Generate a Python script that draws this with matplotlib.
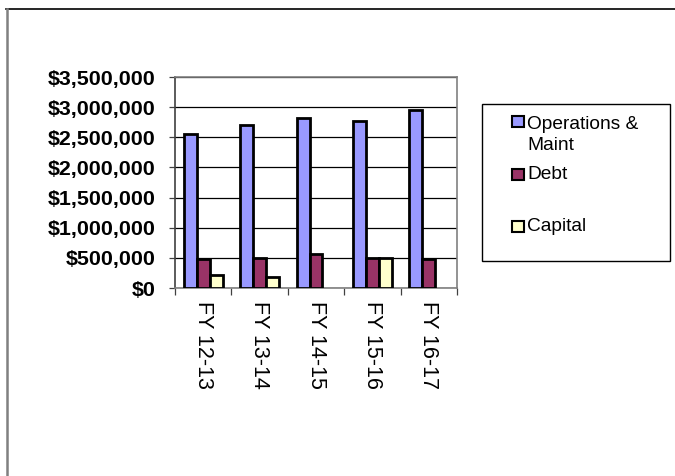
import matplotlib
matplotlib.use("Agg")
import matplotlib.pyplot as plt
from matplotlib.patches import Rectangle
from matplotlib.lines import Line2D
import numpy as np

categories = ["FY 12-13", "FY 13-14", "FY 14-15", "FY 15-16", "FY 16-17"]
series_names = ["Operations &\nMaint", "Debt", "Capital"]
operations = [2555000, 2705000, 2815000, 2765000, 2952000]
debt = [482000, 493000, 558000, 498000, 482000]
capital = [215000, 177000, 0, 493000, 0]
colors = ["#9999FF", "#993366", "#FFFFCC"]
yticks = [0, 500000, 1000000, 1500000, 2000000, 2500000, 3000000, 3500000]

plt.rcParams['font.family'] = ['Liberation Sans', 'DejaVu Sans']

W, H = 675, 476
fig = plt.figure(figsize=(W / 100, H / 100), dpi=100)
ax = fig.add_axes([175 / W, 1 - 288 / H, 282 / W, 211 / H])

# barres groupées (pas de contour pour les valeurs nulles)
x = np.arange(len(categories))
bw = 0.23
for i, vals in enumerate([operations, debt, capital]):
    edges = ["black" if v > 0 else "none" for v in vals]
    ax.bar(x + (i - 1) * bw, vals, bw, color=colors[i], edgecolor=edges,
           linewidth=2.0, zorder=3)

ax.set_xlim(-0.5, len(categories) - 0.5)
ax.set_ylim(0, 3500000)

# axe y
ax.set_yticks(yticks)
ax.set_yticklabels(["${:,.0f}".format(v) for v in yticks], fontsize=15.4,
                   fontweight="bold")
ax.yaxis.grid(True, color="black", linewidth=0.9, zorder=1)
ax.tick_params(axis="y", length=4, width=0.9, pad=10, color="#404040")

# axe x : ticks aux limites, étiquettes au centre
ax.set_xticks(np.arange(-0.5, len(categories)), labels=[])
ax.set_xticks(x, minor=True)
ax.set_xticklabels(categories, minor=True, rotation=-90, fontsize=15.5,
                   va="top", ha="center")
ax.tick_params(axis="x", which="major", length=5, width=0.9, color="#404040")
ax.tick_params(axis="x", which="minor", length=0, pad=9.5)

for side in ["top", "right", "bottom"]:
    ax.spines[side].set_color("#808080")
    ax.spines[side].set_linewidth(1.2)
ax.spines["left"].set_color("#404040")
ax.spines["left"].set_linewidth(1.2)
ax.spines["top"].set_zorder(4)

# légende
fig.add_artist(Rectangle((482 / W, 1 - 261 / H), 188 / W, 157 / H,
                         transform=fig.transFigure, fill=False,
                         edgecolor="black", linewidth=1.0))
square_y = [121.5, 174, 226.5]
baseline_y = [128.6, 179, 231]
for name, c, sy, by in zip(series_names, colors, square_y, baseline_y):
    fig.add_artist(Rectangle((511.5 / W, 1 - (sy + 5.5) / H), 12 / W, 11 / H,
                             transform=fig.transFigure, facecolor=c,
                             edgecolor="black", linewidth=1.5))
    for k, line in enumerate(name.split("\n")):
        fig.text(527 / W, 1 - (by + k * 21.6) / H, line, fontsize=13.8,
                 va="baseline", ha="left")

# cadre extérieur
fig.add_artist(Line2D([6 / W, 1.0], [1 - 9 / H, 1 - 9 / H],
                      transform=fig.transFigure, color="black", linewidth=1.2))
fig.add_artist(Line2D([6.5 / W, 6.5 / W], [1 - 9 / H, 0],
                      transform=fig.transFigure, color="#808080", linewidth=1.8))

fig.savefig("out.png", dpi=100)
